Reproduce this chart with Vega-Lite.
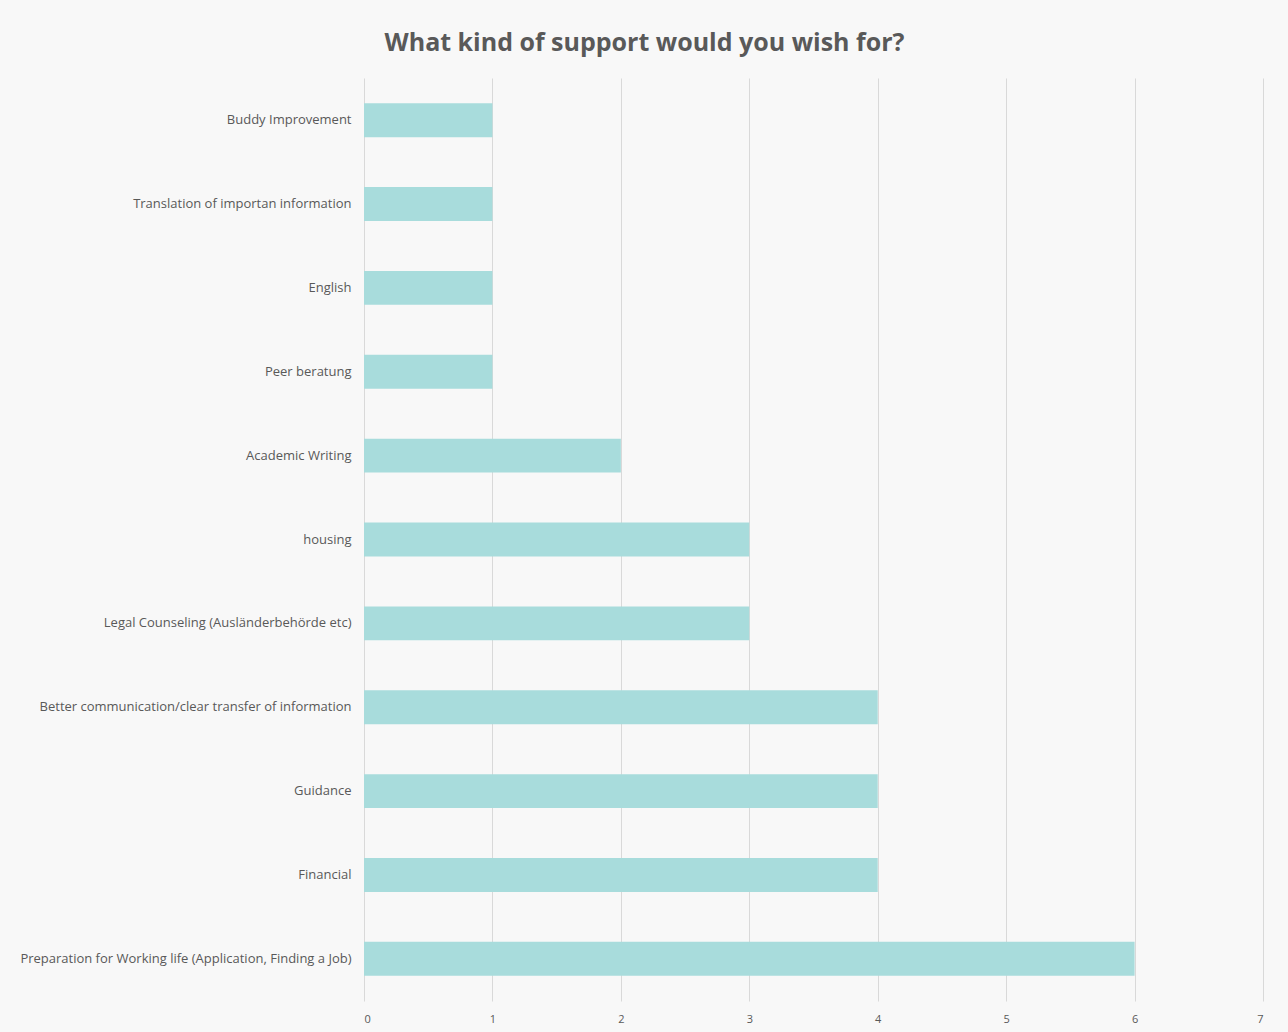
{
  "$schema": "https://vega.github.io/schema/vega-lite/v6.json",
  "autosize": "none",
  "width": 899,
  "height": 923,
  "padding": {"left": 364, "top": 78, "right": 25, "bottom": 31},
  "background": "#f8f8f8",
  "title": {
    "text": "What kind of support would you wish for?",
    "font": "Open Sans",
    "fontSize": 25,
    "fontWeight": "bold",
    "color": "#595959",
    "anchor": "middle",
    "dx": -169,
    "offset": 22
  },
  "data": {
    "values": [
      {"support": "Buddy Improvement", "count": 1},
      {"support": "Translation of importan information", "count": 1},
      {"support": "English", "count": 1},
      {"support": "Peer beratung", "count": 1},
      {"support": "Academic Writing", "count": 2},
      {"support": "housing", "count": 3},
      {"support": "Legal Counseling (Ausländerbehörde etc)", "count": 3},
      {"support": "Better communication/clear transfer of information", "count": 4},
      {"support": "Guidance", "count": 4},
      {"support": "Financial", "count": 4},
      {"support": "Preparation for Working life (Application, Finding a Job)", "count": 6}
    ]
  },
  "mark": {"type": "bar", "color": "#a8dcdc"},
  "encoding": {
    "y": {
      "field": "support",
      "type": "nominal",
      "sort": null,
      "scale": {"paddingInner": 0.595, "paddingOuter": 0.3},
      "axis": {
        "title": null,
        "domain": false,
        "ticks": false,
        "labelPadding": 13,
        "labelFont": "Open Sans",
        "labelFontSize": 13,
        "labelColor": "#595959",
        "labelLimit": 400
      }
    },
    "x": {
      "field": "count",
      "type": "quantitative",
      "scale": {"domain": [0, 7], "nice": false},
      "axis": {
        "title": null,
        "domain": false,
        "ticks": false,
        "values": [0, 1, 2, 3, 4, 5, 6, 7],
        "labelOverlap": false,
        "labelPadding": 12,
        "labelFont": "Open Sans",
        "labelFontSize": 11,
        "labelColor": "#595959",
        "gridColor": "#d9d9d9",
        "gridWidth": 1
      }
    }
  },
  "config": {"view": {"stroke": null}}
}
